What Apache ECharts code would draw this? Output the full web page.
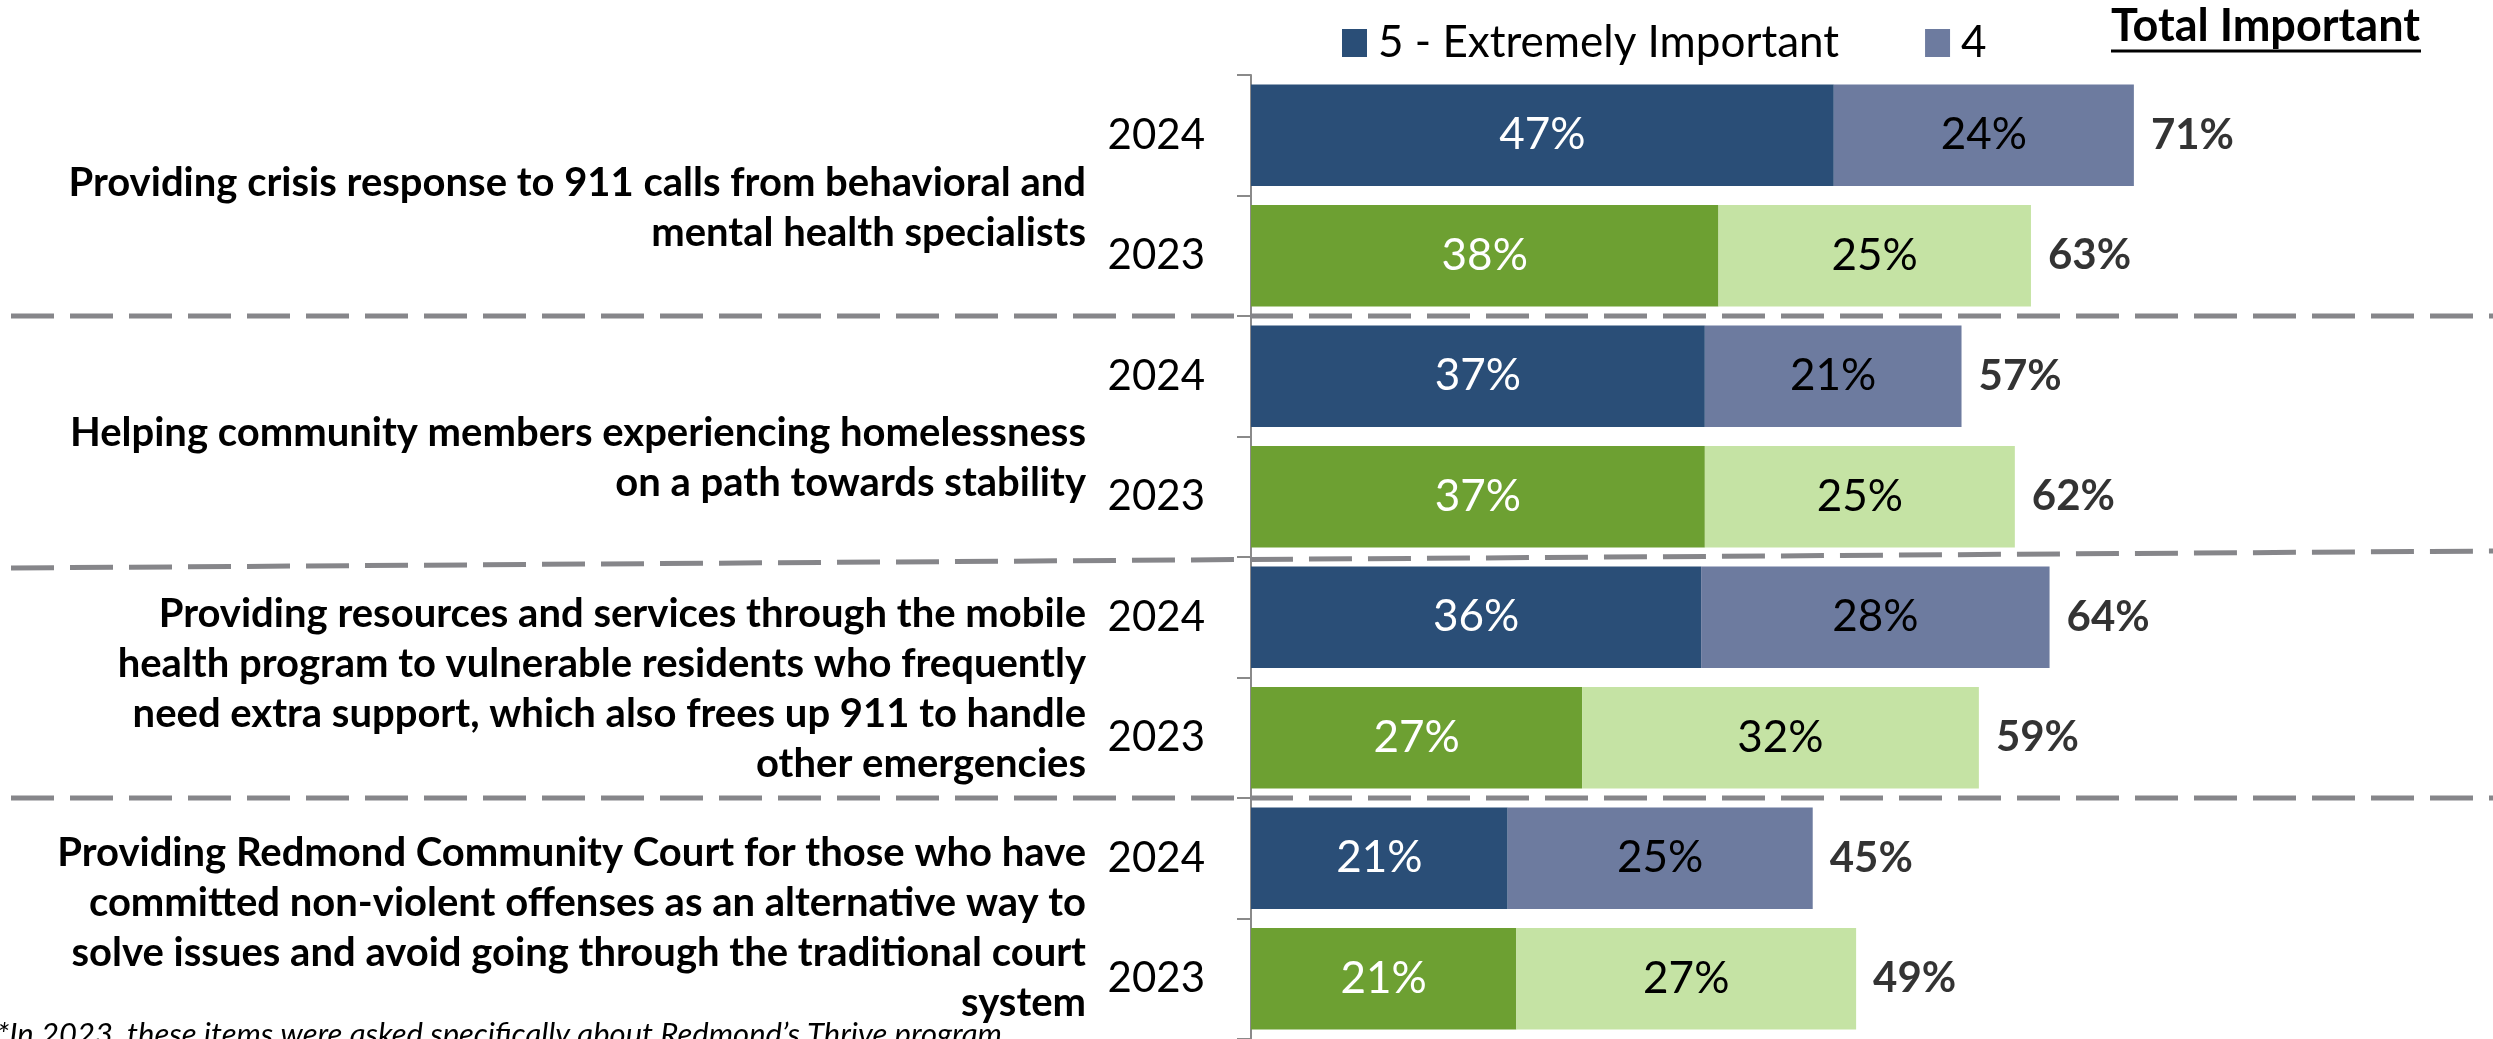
<!DOCTYPE html>
<html><head><meta charset="utf-8">
<script src="https://cdn.jsdelivr.net/npm/echarts@6/dist/echarts.min.js"></script>
<style>html,body{margin:0;padding:0;background:#fff;overflow:hidden}#c{width:2493px;height:1039px}</style>
</head><body><div id="c"></div>
<script>
// ---------- data ----------
const statements = [
  'Providing crisis response to 911 calls from behavioral and\nmental health specialists',
  'Helping community members experiencing homelessness\non a path towards stability',
  'Providing resources and services through the mobile\nhealth program to vulnerable residents who frequently\nneed extra support, which also frees up 911 to handle\nother emergencies',
  'Providing Redmond Community Court for those who have\ncommitted non-violent offenses as an alternative way to\nsolve issues and avoid going through the traditional court\nsystem'
];
const years = ['2024', '2023'];
const extremely2024 = [47.0, 36.6, 36.3, 20.7];
const four2024      = [24.2, 20.7, 28.1, 24.6];
const extremely2023 = [37.7, 36.6, 26.7, 21.4];
const four2023      = [25.2, 25.0, 32.0, 27.4];
const legendNames = ['5 - Extremely Important', '4'];
const totalHeader = 'Total Important';
const footnote = '*In 2023, these items were asked specifically about Redmond\u2019s Thrive program';

// ---------- styling ----------
const FONT = 'Lato';
const C5_24 = '#2A4E77', C4_24 = '#6D7B9F', C5_23 = '#6DA032', C4_23 = '#C5E3A4';
const AX = '#8A8A8A', DASH = '#86868A';
const stmtGap = [26, 44, 24, 19];

// 8 rows: 2024 / 2023 for each statement
const cats = [];
statements.forEach((s, i) => years.forEach(y => cats.push(y + '|' + i)));
const rowVal = (arr, slot) => cats.map((c, k) => (k % 2 === slot ? arr[k >> 1] : '-'));
const totals = cats.map((c, k) => {
  const i = k >> 1;
  return k % 2 === 0 ? extremely2024[i] + four2024[i] : extremely2023[i] + four2023[i];
});

const barLabel = (color) => ({
  show: true, position: 'inside', color: color, fontFamily: FONT, fontSize: 44,
  formatter: p => Math.round(p.value) + '%'
});
const barSeries = (name, arr, slot, color, lblColor) => ({
  name: name, type: 'bar', stack: 'total', yAxisIndex: 0,
  barCategoryGap: '15.7%',
  data: rowVal(arr, slot),
  itemStyle: { color: color },
  label: barLabel(lblColor),
  emphasis: { disabled: true }
});

const stmtRich = { t: { fontFamily: FONT, fontWeight: 'bold', fontSize: 40, lineHeight: 50, color: '#000', align: 'right' } };
stmtGap.forEach((g, i) => { stmtRich['g' + i] = { fontSize: 10, lineHeight: g, align: 'right' }; });

const chart = echarts.init(document.getElementById('c'), null, { renderer: 'canvas' });
chart.setOption({
  animation: false,
  backgroundColor: '#fff',
  grid: { left: 1251, width: 1240, top: 75, height: 968 },
  legend: {
    data: legendNames, left: 1337, top: 16, itemWidth: 25, itemHeight: 28, itemGap: 86,
    icon: 'rect', selectedMode: false,
    textStyle: { fontFamily: FONT, fontSize: 44, color: '#000', padding: [0, 0, 0, 6] }
  },
  xAxis: { type: 'value', min: 0, max: 100, show: false },
  yAxis: [
    {
      type: 'category', data: cats, inverse: true,
      axisLine: { show: true, lineStyle: { color: AX, width: 2 } },
      axisTick: { show: true, length: 14, lineStyle: { color: AX, width: 2 } },
      axisLabel: { margin: 46, fontFamily: FONT, fontSize: 42, color: '#000', formatter: v => v.split('|')[0] }
    },
    {
      type: 'category', inverse: true, position: 'left',
      data: statements,
      axisLine: { show: false }, axisTick: { show: false },
      axisLabel: {
        margin: 165, align: 'right',
        formatter: (v, i) => '{g' + i + '| }\n' + v.split('\n').map(l => '{t|' + l + '}').join('\n'),
        rich: stmtRich
      }
    }
  ],
  series: [
    barSeries(legendNames[0], extremely2024, 0, C5_24, '#fff'),
    barSeries(legendNames[1], four2024, 0, C4_24, '#000'),
    barSeries('5 (2023)', extremely2023, 1, C5_23, '#fff'),
    barSeries('4 (2023)', four2023, 1, C4_23, '#000'),
    {
      name: 'Total', type: 'scatter', yAxisIndex: 0, symbolSize: 0,
      data: totals.map((t, k) => [t, k]),
      label: {
        show: true, position: 'right', distance: 17, fontFamily: FONT, fontSize: 42,
        fontWeight: 'bold', color: '#000', formatter: p => Math.round(p.value[0]) + '%'
      },
      emphasis: { disabled: true }
    }
  ]
});

// decorative separators, header, footnote
const yPix = k => chart.convertToPixel({ yAxisIndex: 0 }, cats[k]);
const tilt = [[0, 0], [11, -6], [0, 0]];
const W = chart.getWidth();
const graphics = [];
[1, 3, 5].forEach((k, j) => {
  const yb = (yPix(k) + yPix(k + 1)) / 2;
  graphics.push({
    type: 'line', z: 10,
    shape: { x1: 11, y1: yb + tilt[j][0], x2: W, y2: yb + tilt[j][1] },
    style: { stroke: DASH, lineWidth: 5, lineDash: [43, 16], lineCap: 'butt' }
  });
});
graphics.push({
  type: 'text', left: 2111, top: 4,
  style: { text: totalHeader, font: 'bold 45px ' + FONT, fill: '#000' }
});
graphics.push({
  type: 'line', shape: { x1: 2111, y1: 51, x2: 2421, y2: 51 },
  style: { stroke: '#000', lineWidth: 3 }
});
graphics.push({
  type: 'text', left: -3, top: 1019,
  style: { text: footnote, font: 'italic 31px ' + FONT, fill: '#000' }
});
chart.setOption({ graphic: graphics });
</script>
</body></html>
